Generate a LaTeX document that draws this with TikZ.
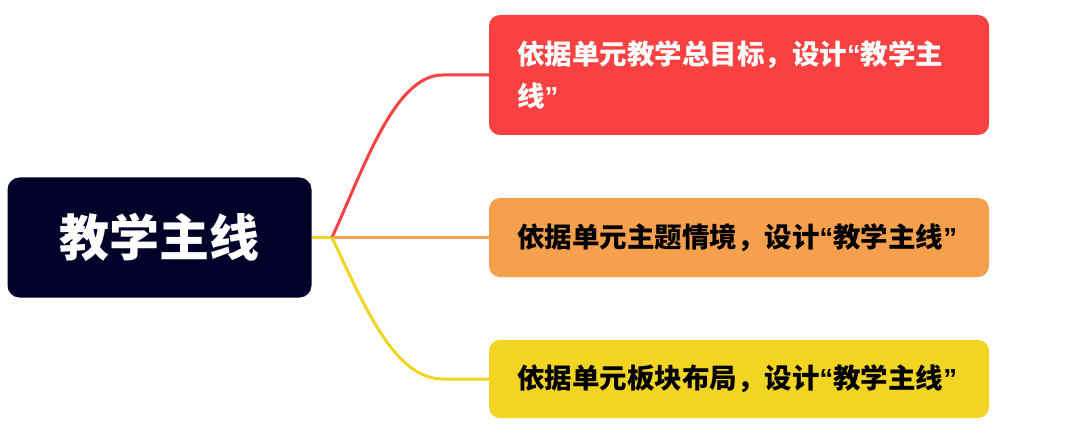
\documentclass[tikz,border=0pt]{standalone}
\usepackage{fontspec}
\newfontfamily\cjk{Noto Sans CJK SC}
\newfontfamily\lat{Liberation Sans}
\newcommand{\myLq}{{\lat\bfseries “}}
\newcommand{\myRq}{{\lat\bfseries ”}}
\usetikzlibrary{calc}
\definecolor{rootc}{HTML}{000029}
\definecolor{redc}{HTML}{F94141}
\definecolor{orangec}{HTML}{F6A04D}
\definecolor{yellowc}{HTML}{F2D422}
\tikzset{
  box/.style={rectangle, rounded corners=11pt, minimum width=500pt, minimum height=80pt,
    text width=444pt, inner xsep=28pt, inner ysep=0pt, align=left,
    font=\cjk\bfseries\fontsize{27.5}{42}\selectfont},
  rootbox/.style={rectangle, rounded corners=12pt, fill=rootc, text=white,
    minimum width=304pt, minimum height=120pt, font=\cjk\bfseries\fontsize{50}{60}\selectfont},
  conn/.style={line width=3pt}
}
\begin{document}
\begin{tikzpicture}[x=1pt,y=-1pt]
\useasboundingbox[fill=white] (0,0) rectangle (1080,441);
\node[rootbox] (root) at (159.5,237.5) {教学主线};
\node[box, fill=redc, text=white, minimum height=120pt] (top) at (739,75) {依据单元教学总目标，设计\myLq 教学主\\线\myRq};
\node[box, fill=orangec, text=black, minimum height=79pt] (mid) at (739,237.5) {依据单元主题情境，设计\myLq 教学主线\myRq};
\node[box, fill=yellowc, text=black, minimum height=78pt] (bot) at (739,379) {依据单元板块布局，设计\myLq 教学主线\myRq};
\coordinate (J) at (332,237.5);
\draw[conn, yellowc] (root.east) -- (J);
\draw[conn, redc] (J) .. controls ($(J)+(33,-72)$) and ($(top.west)+(-94,0)$) .. ($(top.west)+(-46,0)$) -- (top.west);
\draw[conn, orangec] (J) -- (mid.west);
\draw[conn, yellowc] (J) .. controls ($(J)+(33,70)$) and ($(bot.west)+(-94,0)$) .. ($(bot.west)+(-46,0)$) -- (bot.west);
\end{tikzpicture}
\end{document}
